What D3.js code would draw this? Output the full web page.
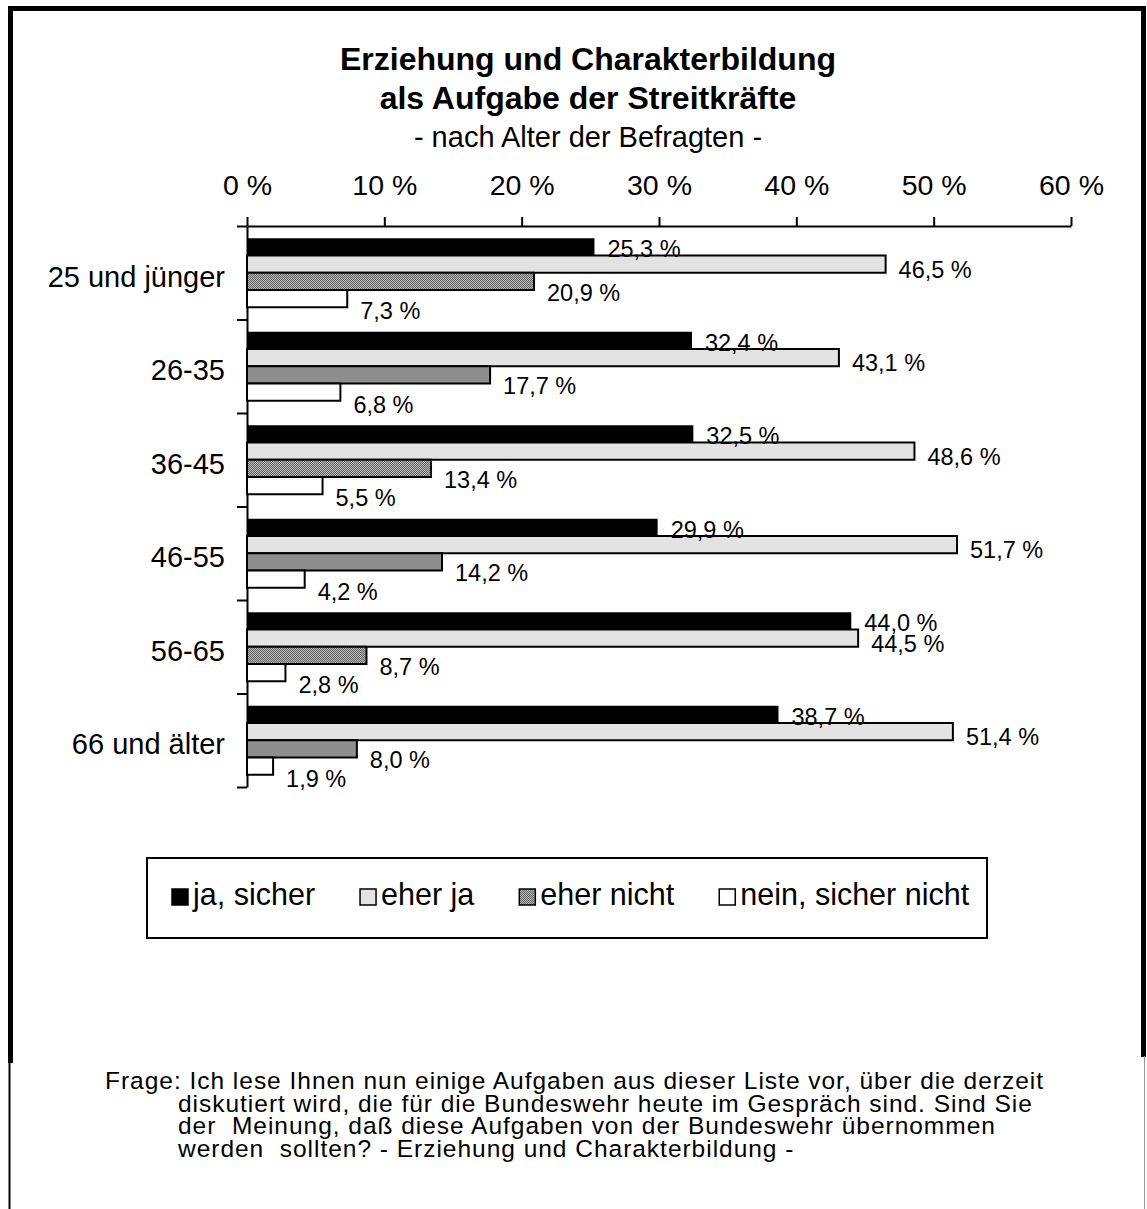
<!DOCTYPE html>
<html>
<head>
<meta charset="utf-8">
<script src="https://cdn.jsdelivr.net/npm/d3@7"></script>
<style>
  body { margin: 0; background: #fff; }
  svg { display: block; font-family: "Liberation Sans", Arial, sans-serif; }
</style>
</head>
<body>
<div id="chart"></div>
<script>
// data
const categories = ["25 und jünger", "26-35", "36-45", "46-55", "56-65", "66 und älter"]
const series = ["ja, sicher", "eher ja", "eher nicht", "nein, sicher nicht"]
const jaSicher = [25.3, 32.4, 32.5, 29.9, 44.0, 38.7]
const eherJa = [46.5, 43.1, 48.6, 51.7, 44.5, 51.4]
const eherNicht = [20.9, 17.7, 13.4, 14.2, 8.7, 8.0]
const neinSicherNicht = [7.3, 6.8, 5.5, 4.2, 2.8, 1.9]
const xTicks = [0, 10, 20, 30, 40, 50, 60]
const titleLines = ["Erziehung und Charakterbildung", "als Aufgabe der Streitkräfte"]
const subtitle = "- nach Alter der Befragten -"
const noteLines = [
  "Frage: Ich lese Ihnen nun einige Aufgaben aus dieser Liste vor, über die derzeit",
  "diskutiert wird, die für die Bundeswehr heute im Gespräch sind. Sind Sie",
  "der  Meinung, daß diese Aufgaben von der Bundeswehr übernommen",
  "werden  sollten? - Erziehung und Charakterbildung -"
]

const values = [jaSicher, eherJa, eherNicht, neinSicherNicht]
const fills = ["#000", "#e3e3e3", "url(#hatch)", "#fff"]
const labelDy = [2, 5, 11, 12]

const W = 1147, H = 1209
const de = d3.formatLocale({ decimal: ",", thousands: ".", grouping: [3], currency: ["", " €"] })
const fmt = v => de.format(".1f")(v) + " %"

const svg = d3.select("#chart").append("svg")
  .attr("width", W)
  .attr("height", H)

const defs = svg.append("defs")
const hatch = defs.append("pattern")
  .attr("id", "hatch")
  .attr("patternUnits", "userSpaceOnUse")
  .attr("width", 2).attr("height", 2)
hatch.append("rect").attr("width", 2).attr("height", 2).attr("fill", "#bcbcbc")
hatch.append("rect").attr("width", 1).attr("height", 1).attr("fill", "#606060")
hatch.append("rect").attr("x", 1).attr("y", 1).attr("width", 1).attr("height", 1).attr("fill", "#606060")

// frame
svg.append("path").attr("d", "M10.5,1063 V8.5 H1143.5 V1057")
  .attr("fill", "none").attr("stroke", "#000").attr("stroke-width", 5)
svg.append("line").attr("x1", 9.5).attr("x2", 9.5).attr("y1", 1062).attr("y2", H)
  .attr("stroke", "#000").attr("stroke-width", 2)
svg.append("line").attr("x1", 1144.5).attr("x2", 1144.5).attr("y1", 1056).attr("y2", H)
  .attr("stroke", "#999").attr("stroke-width", 1)

// titles
const cx = 588
svg.selectAll(".title").data(titleLines).join("text")
  .attr("class", "title")
  .attr("x", cx).attr("y", (d, i) => 70 + i * 39)
  .attr("text-anchor", "middle")
  .attr("font-size", "32px").attr("font-weight", "bold")
  .text(d => d)
svg.append("text")
  .attr("x", cx).attr("y", 147)
  .attr("text-anchor", "middle")
  .attr("font-size", "29px")
  .text(subtitle)

// scales
const x = d3.scaleLinear().domain([0, 60]).range([247, 1071])
const y0 = d3.scaleBand().domain(categories).range([226, 787])
const inner = y0.bandwidth() * 0.131
const y1 = d3.scaleBand().domain(series).range([inner, y0.bandwidth() - inner])
const bounds = d3.scaleLinear().domain([0, categories.length]).range([226, 787])

// x axis on top
const xAxis = svg.append("g")
  .attr("transform", "translate(0,226)")
  .call(d3.axisTop(x).tickValues(xTicks).tickFormat(d => d + " %")
    .tickSizeInner(9).tickSizeOuter(0).tickPadding(22))
xAxis.selectAll("line, path").attr("stroke", "#000").attr("stroke-width", 2)
xAxis.selectAll("text").attr("font-size", "28.5px").attr("font-family", "Liberation Sans, Arial, sans-serif").attr("fill", "#000")

// y axis with boundary ticks
const yAxis = svg.append("g")
  .attr("transform", "translate(247,0)")
  .call(d3.axisLeft(bounds).ticks(categories.length).tickFormat("").tickSizeInner(10).tickSizeOuter(0))
yAxis.selectAll("line, path").attr("stroke", "#000").attr("stroke-width", 2)

const yLabels = svg.append("g")
  .attr("transform", "translate(247,0)")
  .call(d3.axisLeft(y0).tickSize(0).tickPadding(22))
yLabels.select(".domain").remove()
yLabels.selectAll("text")
  .attr("font-size", "29px").attr("font-family", "Liberation Sans, Arial, sans-serif")
  .attr("fill", "#000").attr("dy", "0.48em")

// bars
const rows = categories.map((c, ci) => series.map((s, si) => ({ c, s, si, v: values[si][ci] })))
const groups = svg.append("g").selectAll("g")
  .data(rows).join("g")
  .attr("transform", (d, i) => `translate(0,${y0(categories[i])})`)

groups.selectAll("rect")
  .data(d => d).join("rect")
  .attr("x", x(0))
  .attr("y", d => y1(d.s))
  .attr("width", d => x(d.v) - x(0))
  .attr("height", y1.bandwidth())
  .attr("fill", d => fills[d.si])
  .attr("stroke", "#000")
  .attr("stroke-width", d => d.si === 0 ? 0 : 2)

groups.selectAll("text")
  .data(d => d).join("text")
  .attr("x", d => x(d.v) + 13)
  .attr("y", d => y1(d.s) + y1.bandwidth() / 2 + labelDy[d.si])
  .attr("dy", "0.36em")
  .attr("font-size", "23.5px")
  .text(d => fmt(d.v))

// legend
svg.append("rect")
  .attr("x", 147).attr("y", 858).attr("width", 840).attr("height", 80)
  .attr("fill", "#fff").attr("stroke", "#000").attr("stroke-width", 2)
const legend = svg.append("g")
let lx = 172
series.forEach((s, i) => {
  legend.append("rect")
    .attr("x", lx).attr("y", 889).attr("width", 16).attr("height", 16)
    .attr("fill", fills[i])
    .attr("stroke", "#000").attr("stroke-width", 1.5)
  const t = legend.append("text")
    .attr("x", lx + 21).attr("y", 905)
    .attr("font-size", "30.5px")
    .text(s)
  lx += 21 + t.node().getComputedTextLength() + 45
})

// note
const note = svg.append("g").selectAll("text")
  .data(noteLines).join("text")
  .attr("x", (d, i) => i === 0 ? 105 : 178)
  .attr("y", (d, i) => 1089 + i * 22.7)
  .attr("font-size", "24.5px")
  .style("white-space", "pre")
  .text(d => d)
const first = note.node()
const spacing = Math.max(0, (938 - first.getComputedTextLength()) / (noteLines[0].length - 1))
note.attr("letter-spacing", spacing)
</script>
</body>
</html>
